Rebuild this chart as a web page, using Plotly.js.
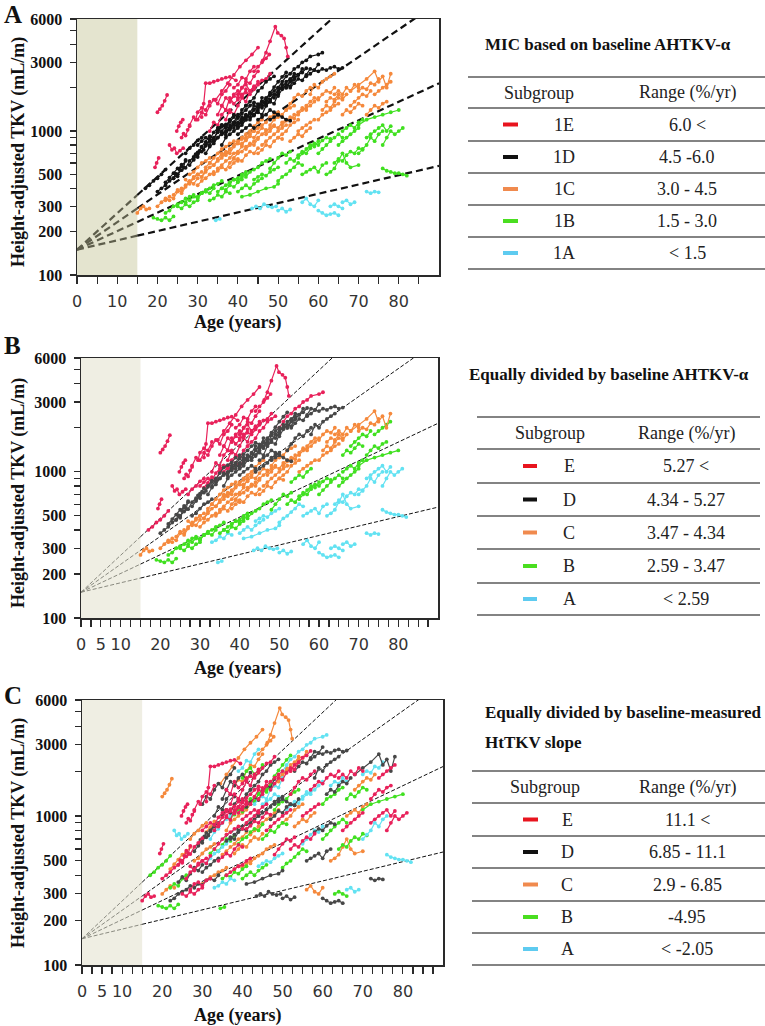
<!DOCTYPE html>
<html><head><meta charset="utf-8">
<script src="https://cdn.plot.ly/plotly-3.0.1.min.js"></script>
<style>html,body{margin:0;padding:0;background:#fff}#chart{width:765px;height:1026px}</style>
</head><body><div id="chart"></div>
<script>
// ---------------- DATA ----------------
// Each trajectory: [age0, tkv0, age1, tkv1, ...]  (Height-adjusted TKV, mL/m)
// Grouped by their subgroup in panel A (MIC class)
const grp1E = [
  [20,1350, 20.6,1420, 21.2,1500, 21.8,1620, 22.4,1780],
  [24.8,1000, 25.3,1080, 25.8,1150, 26.3,1200],
  [23,800, 23.6,740, 24.2,760, 24.8,700, 25.6,730, 26.4,760],
  [19.4,560, 19.8,600, 20.3,650],
  [31,1250, 31.5,1550, 32,2150, 33,2150, 34,2200, 35,2250, 36,2300, 37,2350, 38,2380, 39.5,2250],
  [34.5,1650, 36,1900, 37.5,2150, 39,2450, 40.5,2800, 42,3100, 43.5,3400, 45,3800],
  [44,2600, 45,2800, 46,3000, 47,3200, 47.8,3400],
  [46.2,3100, 47,3500, 48,4200, 49.3,5300, 49.9,4800, 50.8,4600, 51.5,4400, 52,3800, 52.4,3300],
  [35,1300, 36,1500, 37,1700, 38,1600, 39,1800, 40,1900, 41,1750, 42,1950],
  [37,1200, 38,1400, 39,1300, 40,1500, 41,1700, 42,1600, 43,1900, 44,2050],
  [33,1000, 34,1150, 35,1100, 36,1300, 37,1400, 38,1350],
  [40,1800, 41,2000, 42,2100, 43,1900, 44,2000, 45,2200],
  [36,1500, 37,1400, 38,1700, 39,1550, 40,1650, 41,1800],
  [28,1100, 29,1250, 29.5,1200, 30,1350, 31,1450, 32,1400, 33,1600],
  [30,1200, 31,1350, 32,1300, 33,1500, 34,1650, 35,1550, 36,1800, 37,1900, 38,2100],
  [38,1600, 39,1750, 40,1700, 41,2000, 42,2200, 43,2150, 44,2400, 45,2600],
  [41,1750, 42,1850, 43,1800, 44,1950, 45,2100, 46,2250, 47,2300, 48,2500],
  [39,2000, 40,2100, 41,2350, 42,2300, 43,2600, 44,2800],
  [26,900, 26.5,960, 27,930, 27.5,1020, 28,1080]
];
const grp1D = [
  [17,400, 18,420, 19,450, 20,470, 21,500, 22,540],
  [20,380, 21,400, 22,420, 23,450, 24,470, 25,500],
  [22,440, 23,475, 24,510, 25,550, 26,570, 27,620],
  [25,500, 26,535, 27,555, 28,620, 29,660, 30,710],
  [28,580, 29,630, 30,690, 31,720, 32,790, 33,850, 34,900],
  [30,800, 31,850, 32,900, 33,870, 34,980, 35,1050, 36,1100],
  [32,700, 33,780, 34,820, 35,900, 36,950, 37,1000, 38,1050],
  [33,800, 34,890, 35,980, 36,1070, 37,1110, 38,1160, 39,1250],
  [35,1000, 36,1100, 37,1050, 38,1200, 39,1300, 40,1250, 41,1400, 42,1500],
  [36,800, 37,900, 38,950, 39,1000, 40,1050, 41,1100, 42,1200],
  [38,1050, 39,1140, 40,1230, 41,1320, 42,1400, 43,1500, 44,1580, 45,1540],
  [40,1100, 41,1150, 42,1300, 43,1250, 44,1400, 45,1500, 46,1450, 47,1600],
  [42,1500, 43,1600, 44,1700, 45,1900, 46,2000, 47,2200, 48,2300, 49,2400],
  [44,1300, 45,1400, 46,1600, 47,1700, 48,1800, 49,1900, 50,2000],
  [46,1500, 47,1670, 48,1850, 49,2020, 50,2200, 51,2380, 52,2550],
  [48,1600, 49,1800, 50,1900, 51,2000, 52,2200, 53,2300, 54,2400],
  [50,2000, 51,2200, 52,2400, 53,2500, 54,2700, 55,2800, 56,3000, 57,3100, 58,3300, 60,3400, 61,3500],
  [52,2000, 53,2200, 54,2290, 55,2460, 56,2550, 57,2730],
  [57,2400, 58,2500, 59,2650, 60,2600, 61,2700, 62,2650, 63,2750, 64,2800, 65,2700, 66,2750],
  [45,1200, 46,1250, 47,1300, 48,1400, 49,1350, 50,1300],
  [40,950, 41,1000, 42,1050, 43,1100, 44,1050],
  [27,700, 28,760, 29,800, 30,860, 31,900],
  [48,1200, 49,1250, 50,1300, 51,1250, 52,1200, 53,1180],
  [24,470, 24.5,505, 25,485, 25.5,540, 26,585, 26.5,560, 27,630],
  [29,640, 29.5,690, 30,660, 30.5,730, 31,770, 31.5,740, 32,800, 33,870],
  [31,780, 32,840, 33,920, 34,880, 35,1010, 36,1100, 37,1060, 38,1190],
  [34,850, 35,900, 36,980, 37,940, 38,1100, 39,1150, 40,1300],
  [37,980, 38,1020, 39,1110, 40,1070, 41,1200, 42,1290, 43,1250, 44,1420],
  [39,1050, 40,1150, 41,1250, 42,1200, 43,1350, 44,1500, 45,1450, 46,1700],
  [41,1150, 42,1240, 43,1330, 44,1280, 45,1460, 46,1590, 47,1550, 48,1770],
  [43,1200, 44,1300, 45,1350, 46,1300, 47,1500, 48,1600, 49,1550, 50,1800],
  [47,1500, 48,1650, 49,1800, 50,1750, 51,1950, 52,2100, 53,2050, 54,2300],
  [49,1700, 50,1850, 51,2100, 52,2000, 53,2250, 54,2500, 55,2450, 56,2700],
  [53,2000, 54,2150, 55,2300, 56,2250, 57,2450, 58,2700, 59,2650, 60,2900],
  [36,1000, 37,1080, 38,1040, 39,1150, 40,1100, 41,1200]
];
const grp1C = [
  [15,270, 15.8,290, 16.5,300, 17.2,285, 18,290],
  [22,330, 23,350, 24,340, 25,380, 26,400],
  [26,380, 27,420, 28,440, 29,480, 30,500, 31,520],
  [28,500, 29,520, 30,560, 31,600, 32,620, 33,650],
  [31,480, 32,520, 33,560, 34,580, 35,620, 36,650, 37,700],
  [33,600, 34,650, 35,700, 36,750, 37,780, 38,820, 39,850],
  [35,550, 36,580, 37,620, 38,650, 39,700, 40,720, 41,780],
  [37,700, 38,750, 39,800, 40,850, 41,880, 42,900, 43,950, 44,1000],
  [39,650, 40,700, 41,720, 42,780, 43,820, 44,800, 45,880],
  [40,820, 41,900, 42,950, 43,1000, 44,1080, 45,1150, 46,1200],
  [42,750, 43,800, 44,850, 45,900, 46,950, 47,1000, 48,1050, 49,1100],
  [44,1000, 45,1050, 46,1100, 47,1150, 48,1250, 49,1300, 50,1350],
  [46,800, 47,850, 48,900, 49,950, 50,1000, 51,1050, 52,1100],
  [48,1100, 49,1200, 50,1250, 51,1300, 52,1400, 53,1450, 54,1500],
  [50,900, 51,950, 52,1000, 53,1100, 54,1150, 55,1200],
  [52,1400, 53,1550, 54,1700, 55,1800, 56,1750, 57,1900, 58,2000],
  [55,1300, 56,1400, 57,1450, 58,1500, 59,1600, 60,1700],
  [58,1800, 59,2100, 60,2000, 61,2200, 62,2300, 63,2400, 64,2500],
  [60,1200, 61,1300, 62,1350, 63,1400, 64,1500, 65,1550],
  [64,1800, 65,1900, 66,1800, 67,2000, 68,1900, 69,2100, 70,2000],
  [68,1900, 70,2100, 72,2300, 74,2600, 75,2200, 76,2400, 77,2000, 78,2500],
  [68,1500, 69,1600, 70,1700, 71,1800, 72,1750, 73,1900],
  [62,1600, 63,1700, 64,1650, 65,1800, 66,1700],
  [55,1000, 56,1050, 57,1100, 58,1150, 59,1200],
  [30,420, 31,450, 32,470, 33,500, 34,520],
  [72,1300, 73,1400, 74,1500, 75,1450, 76,1550, 77,1600],
  [20,300, 21,320, 22,340, 23,330],
  [24,360, 25,390, 26,370, 27,410, 28,450, 29,430, 30,470],
  [27,460, 28,430, 29,470, 30,500, 31,480, 32,540],
  [32,560, 33,600, 34,580, 35,640, 36,700, 37,680, 38,740],
  [34,500, 35,530, 36,560, 37,540, 38,600, 39,640, 40,620],
  [36,680, 37,720, 38,700, 39,780, 40,820, 41,800, 42,880],
  [38,560, 39,600, 40,640, 41,620, 42,680, 43,720, 44,700, 45,760],
  [41,820, 42,860, 43,920, 44,900, 45,980, 46,1050, 47,1020],
  [45,700, 46,740, 47,800, 48,780, 49,850, 50,900, 51,880],
  [47,950, 48,1000, 49,1080, 50,1050, 51,1150, 52,1200, 53,1180, 54,1300],
  [51,1100, 52,1180, 53,1250, 54,1220, 55,1350, 56,1450, 57,1400],
  [53,850, 54,900, 55,950, 56,920, 57,1000, 58,1050],
  [57,1500, 58,1600, 59,1700, 60,1650, 61,1800, 62,1900, 63,1850, 64,2000],
  [61,1400, 62,1500, 63,1450, 64,1600, 65,1700, 66,1650, 67,1800],
  [66,1300, 67,1400, 68,1350, 69,1450, 70,1550, 71,1500],
  [70,1900, 71,2000, 72,1950, 73,2150, 74,2100, 75,2300],
  [74,1800, 75,1900, 76,2000, 77,2100, 78,2200]
];
const grp1B = [
  [19,250, 20,245, 21,240, 22,250, 23,240, 24,255],
  [22,270, 23,280, 24,300, 25,310, 26,320, 27,340],
  [27,320, 28,350, 29,360, 30,340, 31,370, 32,380],
  [30,350, 31,370, 32,390, 33,400, 34,420, 35,430, 36,450],
  [33,330, 34,340, 35,360, 36,350, 37,380, 38,370],
  [36,400, 37,420, 38,440, 39,460, 40,470, 41,500, 42,520],
  [40,380, 41,400, 42,420, 43,400, 44,430, 45,450, 46,470],
  [42,480, 43,520, 44,540, 45,560, 46,600, 47,620, 48,640],
  [41,350, 43,360, 45,380, 47,400, 49,410, 50,430],
  [48,550, 49,600, 50,650, 51,700, 52,680, 53,720],
  [50,450, 51,480, 52,500, 53,530, 54,560, 55,600, 56,580],
  [55,650, 56,700, 57,750, 58,800, 59,780, 60,850],
  [56,500, 57,520, 58,540, 59,560, 60,520, 61,580, 62,600],
  [60,700, 61,750, 62,800, 63,850, 64,900, 65,950, 66,900],
  [62,500, 63,520, 64,550, 65,620, 66,700, 67,600, 68,560, 70,580],
  [65,800, 66,850, 67,900, 68,950, 69,1000, 70,1050],
  [70,700, 71,750, 72,800, 73,900, 74,850, 75,950, 76,1000],
  [70,1100, 72,1200, 74,1250, 76,1300, 78,1350, 80,1400],
  [76,550, 77,530, 78,520, 79,510, 80,510, 81,500, 82,490],
  [76,800, 77,900, 78,1000, 79,950, 80,1000, 81,1050],
  [25,300, 26,290, 27,310, 28,300, 29,320, 30,330],
  [28,330, 29,350, 30,345, 31,370, 32,380, 33,370, 34,400],
  [35,380, 36,400, 37,390, 38,420, 39,410, 40,440, 41,460],
  [38,440, 39,460, 40,450, 41,480, 42,500],
  [44,460, 45,480, 46,500, 47,490, 48,520, 49,540, 50,560],
  [52,600, 53,640, 54,620, 55,680, 56,720, 57,700, 58,760],
  [58,780, 59,820, 60,800, 61,860, 62,900, 63,880],
  [64,600, 65,640, 66,620, 67,680, 68,720, 69,700, 70,760, 71,740],
  [66,1000, 67,1050, 68,1100, 69,1050, 70,1150, 71,1200],
  [72,900, 73,950, 74,1000, 75,1050, 76,1100, 77,1000, 78,1080]
];
const grp1A = [
  [34.5,240, 35.5,245],
  [43.5,290, 44.5,300, 45.5,290, 46.5,310, 47.5,300, 48.5,295, 49.5,300],
  [56,320, 57,340, 58,310, 59,300, 60,330],
  [60,280, 61,270, 62,260, 63,265, 64,270, 65,260],
  [63,300, 64,310, 65,300, 66,290],
  [72,380, 73,370, 74,380, 75,375],
  [50,280, 51,290, 52,275, 53,285],
  [66,320, 67,330, 68,310, 69,320]
];
// Panel C subgroup of each trajectory, one letter per trajectory of each list above
const groupC_1E = "CEAEECCCDEDBEEDCEAE";
const groupC_1D = "BECEDEAEDCEBDEBCAEDAECDEDCEBEDAECDE";
const groupC_1C = "EBECAECDBECDEBCEADBEDCAEDECDEBEDCEBDACEDBAE";
const groupC_1B = "BDECAEBCDEBADBCEABAEEDBCAEDBCE";
const groupC_1A = "BDCDBDDA";
// Reference lines: growth from 150 mL/m at birth
const refStart = 150;
const refRates = [1.5, 3.0, 4.5, 6.0];          // %/yr
const rangesB = [2.59, 3.47, 4.34, 5.27];        // panel B subgroup cut points (%/yr)
const shadeEnd = 15;
// Tables
const titleA = ["MIC based on baseline AHTKV-α"];
const titleB = ["Equally divided by baseline AHTKV-α"];
const titleC = ["Equally divided by baseline-measured", "HtTKV slope"];
const labelsA = ["1E","1D","1C","1B","1A"];
const labelsBC = ["E","D","C","B","A"];
const rangeTextA = ["6.0 &lt;","4.5 -6.0","3.0 - 4.5","1.5 - 3.0","&lt; 1.5"];
const rangeTextB = ["5.27 &lt;","4.34 - 5.27","3.47 - 4.34","2.59 - 3.47","&lt; 2.59"];
const rangeTextC = ["11.1 &lt;","6.85 - 11.1","2.9 - 6.85","-4.95","&lt; -2.05"];
const yTickVals = [100,200,300,400,500,600,700,800,900,1000,2000,3000,4000,5000,6000];
const yTickText = ["100","200","300","","500","","","","","1000","","3000","","","6000"];

// ---------------- BUILD ----------------
const W = 765, H = 1026;
const px = x => x / W, py = y => 1 - y / H;
const SERIF = "Liberation Serif, Times New Roman, serif";
const SANS = "DejaVu Sans, Verdana, sans-serif";

const all = [];
[[grp1E, 'E', groupC_1E], [grp1D, 'D', groupC_1D], [grp1C, 'C', groupC_1C], [grp1B, 'B', groupC_1B], [grp1A, 'A', groupC_1A]]
  .forEach(([list, a, cs]) => list.forEach((t, i) => all.push({t, a, c: cs[i] || a})));
all.forEach(p => {
  const alpha = (Math.pow(p.t[1] / refStart, 1 / p.t[0]) - 1) * 100;
  let b = 'A';
  if (alpha >= rangesB[3]) b = 'E'; else if (alpha >= rangesB[2]) b = 'D';
  else if (alpha >= rangesB[1]) b = 'C'; else if (alpha >= rangesB[0]) b = 'B';
  p.b = b;
});

const colA = {E: '#e8215a', D: '#141414', C: '#f5893c', B: '#40e020', A: '#62e2f2'};
const colBC = {E: '#e8215a', D: '#474747', C: '#f5893c', B: '#40e020', A: '#62e2f2'};

const panels = [
  {xa: 'x', ya: 'y', box: [77, 439, 19, 275], cols: colA, order: ['A','B','C','E','D'], shade: '#e4e4cf', dash: {w: 2.2, d: '7px,4px', inShade: '#5e5e4c'}, xt: 'A'},
  {xa: 'x2', ya: 'y2', box: [81, 438, 358, 618], cols: colBC, order: ['A','B','C','E','D'], shade: '#efeee3', dash: {w: 1, d: '4px,2px', inShade: '#8a8a80'}, xt: 'B'},
  {xa: 'x3', ya: 'y3', box: [82, 443, 700, 965], cols: colBC, order: ['C','B','A','D','E'], shade: '#efeee3', dash: {w: 1, d: '4px,2px', inShade: '#8a8a80'}, xt: 'B'}
];

const traces = [];
const shapes = [];
const annotations = [];
const layout = {
  width: W, height: H, margin: {l: 0, r: 0, t: 0, b: 0},
  paper_bgcolor: '#fff', plot_bgcolor: 'rgba(0,0,0,0)', showlegend: false,
  shapes, annotations
};

panels.forEach((P, pi) => {
  refRates.forEach(r => {
    const g = 1 + r / 100;
    traces.push({x: [0, shadeEnd], y: [refStart, refStart * Math.pow(g, shadeEnd)], xaxis: P.xa, yaxis: P.ya,
      mode: 'lines', line: {color: P.dash.inShade, width: P.dash.w, dash: P.dash.d}, hoverinfo: 'skip'});
    traces.push({x: [shadeEnd, 90], y: [refStart * Math.pow(g, shadeEnd), refStart * Math.pow(g, 90)], xaxis: P.xa, yaxis: P.ya,
      mode: 'lines', line: {color: '#111', width: P.dash.w, dash: P.dash.d}, hoverinfo: 'skip'});
  });
  P.order.forEach(gk => {
    const xs = [], ys = [];
    all.forEach(p => {
      const g = pi === 0 ? p.a : (pi === 1 ? p.b : p.c);
      if (g !== gk) return;
      for (let i = 0; i < p.t.length; i += 2) { xs.push(p.t[i]); ys.push(p.t[i + 1]); }
      xs.push(null); ys.push(null);
    });
    traces.push({x: xs, y: ys, xaxis: P.xa, yaxis: P.ya, mode: 'lines+markers', connectgaps: false,
      line: {color: P.cols[gk], width: 1.2}, marker: {color: P.cols[gk], size: 3.8}, hoverinfo: 'skip'});
  });
  const [x0, x1, y0, y1] = P.box;
  const xName = P.xa === 'x' ? 'xaxis' : 'xaxis' + P.xa.slice(1);
  const yName = P.ya === 'y' ? 'yaxis' : 'yaxis' + P.ya.slice(1);
  const tv = [], tt = [];
  if (P.xt === 'A') {
    for (let v = 0; v <= 85; v += 5) { tv.push(v); tt.push(v % 10 === 0 && v <= 80 ? String(v) : ''); }
  } else {
    for (let v = 0; v <= 87.5; v += 2.5) { tv.push(v); tt.push((v === 0 || v === 5 || (v % 10 === 0 && v >= 10 && v <= 80)) ? String(v) : ''); }
  }
  layout[xName] = {domain: [px(x0), px(x1)], range: [0, 90], anchor: P.ya, showgrid: false, zeroline: false,
    showline: true, linecolor: '#2a2a2a', linewidth: 1.5, mirror: true, ticks: 'outside', ticklen: 7, tickwidth: 1.2,
    tickcolor: '#2a2a2a', tickmode: 'array', tickvals: tv, ticktext: tt, ticklabelstandoff: 4,
    tickfont: {family: SANS, size: 16, color: '#333'}, fixedrange: true};
  layout[yName] = {domain: [py(y1), py(y0)], type: 'log', range: [2, Math.log10(6000)], anchor: P.xa, showgrid: false,
    zeroline: false, showline: true, linecolor: '#2a2a2a', linewidth: 1.5, mirror: true, ticks: 'outside', ticklen: 6,
    tickwidth: 1.2, tickcolor: '#2a2a2a', tickmode: 'array', tickvals: yTickVals, ticktext: yTickText, ticklabelstandoff: 4,
    tickfont: {family: SERIF, size: 16, color: '#111', weight: 'bold'}, fixedrange: true};
  shapes.push({type: 'rect', xref: P.xa, yref: P.ya + ' domain', x0: 0, x1: shadeEnd, y0: 0, y1: 1,
    fillcolor: P.shade, line: {width: 0}, layer: 'below'});
});

const axisTitleY = [152, 493, 833];
const axisTitleX = [322, 668, 1015];
const letters = [['A', 15], ['B', 345], ['C', 695]];
axisTitleY.forEach(y => annotations.push({xref: 'paper', yref: 'paper', x: px(18), y: py(y), text: 'Height-adjusted TKV (mL/m)',
  textangle: -90, showarrow: false, xanchor: 'center', yanchor: 'middle', font: {family: SERIF, size: 18, color: '#111', weight: 'bold'}}));
axisTitleX.forEach(y => annotations.push({xref: 'paper', yref: 'paper', x: px(237), y: py(y), text: 'Age (years)',
  showarrow: false, xanchor: 'center', yanchor: 'middle', font: {family: SERIF, size: 18, color: '#111', weight: 'bold'}}));
letters.forEach(([t, y]) => annotations.push({xref: 'paper', yref: 'paper', x: px(2), y: py(y), text: t,
  showarrow: false, xanchor: 'left', yanchor: 'middle', font: {family: SERIF, size: 25, color: '#111', weight: 'bold'}}));

const tables = [
  {title: titleA, tx: 483, ty: [44], lines: [77,108,141,173,205,237,269], lx: [468, 765], subX: 539, rngX: 687, sw: [503, 518], labX: 564, labels: labelsA, ranges: rangeTextA},
  {title: titleB, tx: 467, ty: [375], lines: [417,449,483,516,549,583,615], lx: [477, 760], subX: 550, rngX: 686, sw: [523, 537], labX: 569, labels: labelsBC, ranges: rangeTextB},
  {title: titleC, tx: 483, ty: [712, 742], lines: [771,803,836,868,901,933,965], lx: [472, 765], subX: 545, rngX: 687, sw: [523, 538], labX: 567, labels: labelsBC, ranges: rangeTextC}
];
const swatch = ['#e8141e', '#111111', '#f08a4e', '#4ade20', '#5ecbf0'];
tables.forEach(T => {
  T.title.forEach((s, i) => annotations.push({xref: 'paper', yref: 'paper', x: px(T.tx), y: py(T.ty[i]), text: s, showarrow: false,
    xanchor: 'left', yanchor: 'middle', font: {family: SERIF, size: 17, color: '#111', weight: 'bold'}}));
  T.lines.forEach(y => shapes.push({type: 'line', xref: 'paper', yref: 'paper', x0: px(T.lx[0]), x1: px(T.lx[1]), y0: py(y), y1: py(y),
    line: {color: '#5a5a5a', width: 1.5}}));
  const hy = (T.lines[0] + T.lines[1]) / 2;
  annotations.push({xref: 'paper', yref: 'paper', x: px(T.subX), y: py(hy), text: 'Subgroup', showarrow: false, xanchor: 'center', yanchor: 'middle',
    font: {family: SERIF, size: 18, color: '#222'}});
  annotations.push({xref: 'paper', yref: 'paper', x: px(T.rngX), y: py(hy), text: 'Range (%/yr)', showarrow: false, xanchor: 'center', yanchor: 'middle',
    font: {family: SERIF, size: 18, color: '#222'}});
  for (let r = 0; r < 5; r++) {
    const ry = (T.lines[r + 1] + T.lines[r + 2]) / 2;
    shapes.push({type: 'line', xref: 'paper', yref: 'paper', x0: px(T.sw[0]), x1: px(T.sw[1]), y0: py(ry), y1: py(ry),
      line: {color: swatch[r], width: 4}});
    annotations.push({xref: 'paper', yref: 'paper', x: px(T.labX), y: py(ry), text: T.labels[r], showarrow: false, xanchor: 'center', yanchor: 'middle',
      font: {family: SERIF, size: 18, color: '#222'}});
    annotations.push({xref: 'paper', yref: 'paper', x: px(T.rngX), y: py(ry), text: T.ranges[r], showarrow: false, xanchor: 'center', yanchor: 'middle',
      font: {family: SERIF, size: 18, color: '#222'}});
  }
});

Plotly.newPlot('chart', traces, layout, {staticPlot: true, displayModeBar: false});
</script></body></html>
